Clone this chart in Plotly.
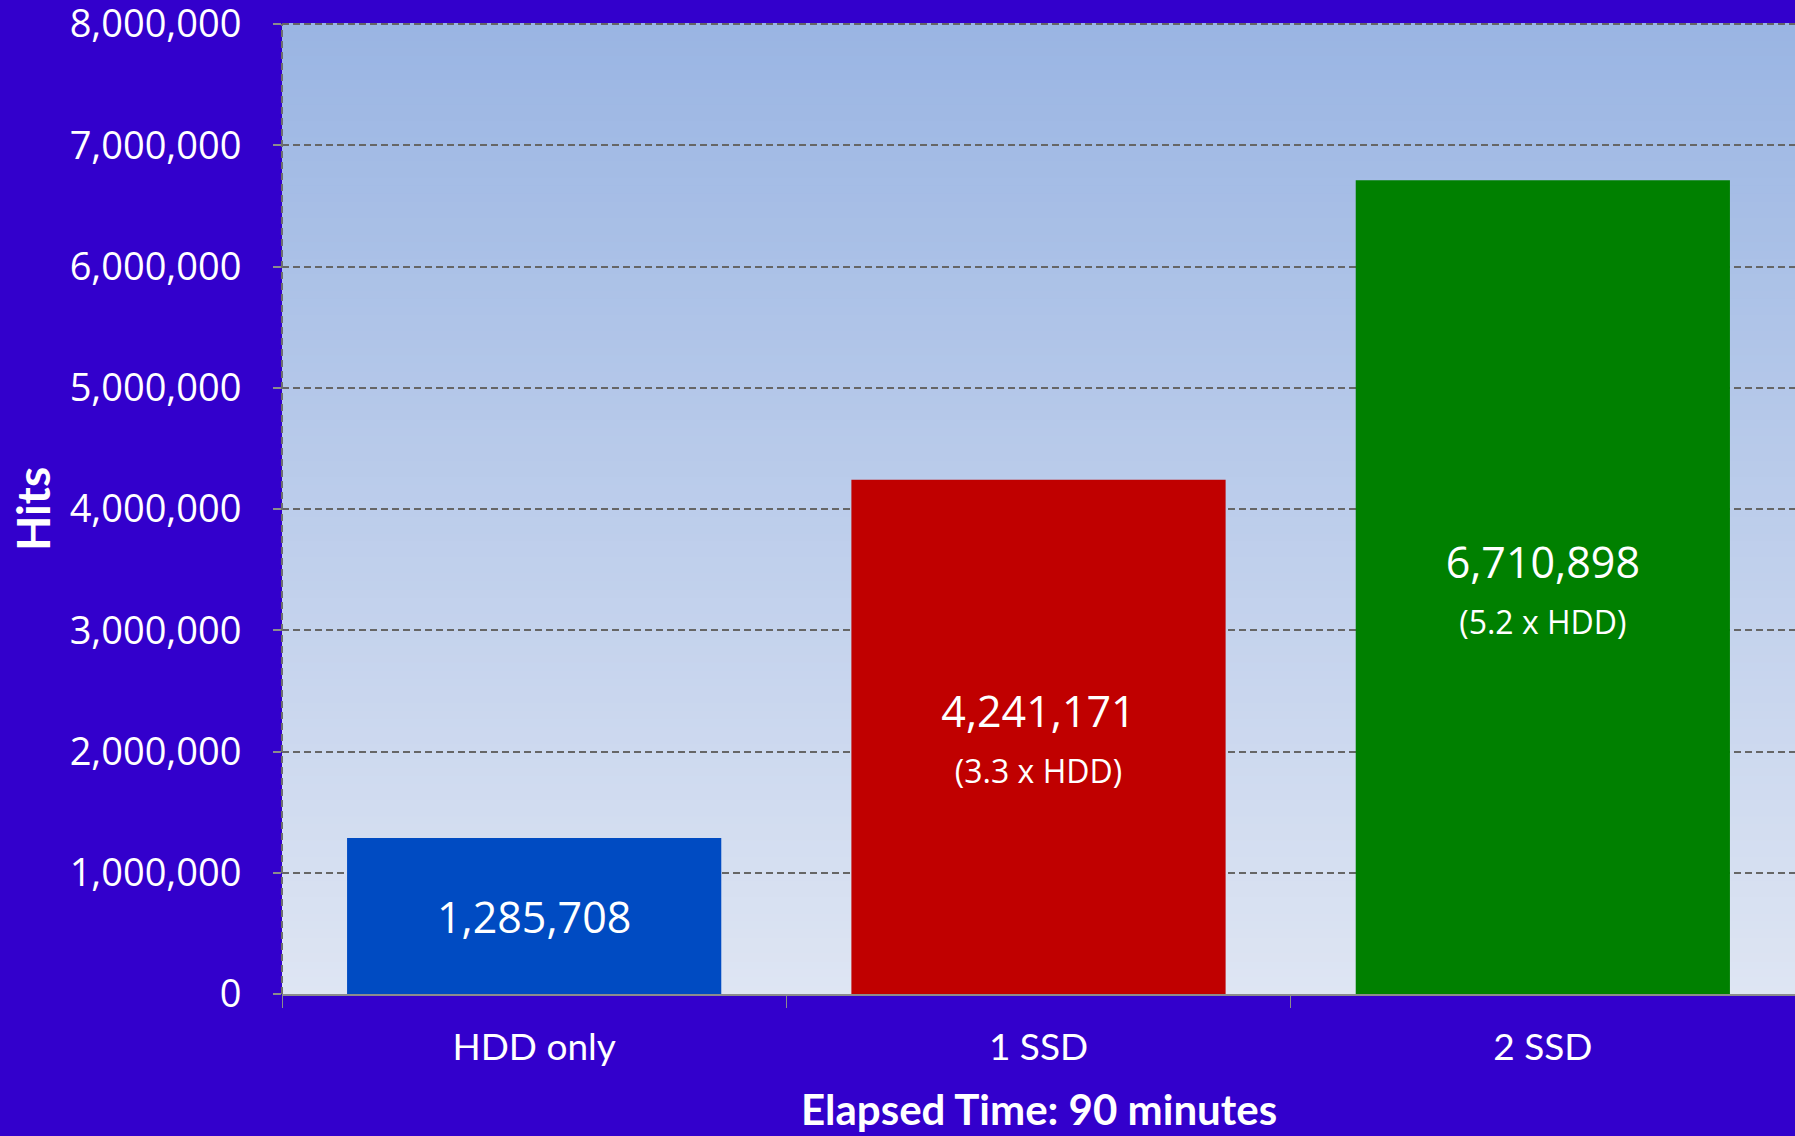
import plotly.graph_objects as go

categories = ["HDD only", "1 SSD", "2 SSD"]
hits = [1285708, 4241171, 6710898]
ratio_labels = ["", "(3.3 x HDD)", "(5.2 x HDD)"]
bar_colors = ["#004BC2", "#C00000", "#008000"]
y_ticks = [0, 1000000, 2000000, 3000000, 4000000, 5000000, 6000000, 7000000, 8000000]

texts = []
for v, r in zip(hits, ratio_labels):
    t = f"{v:,}"
    if r:
        t += f"<br><span style='font-size:32px'>{r}</span>"
    texts.append(t)

fig = go.Figure()
fig.add_trace(go.Bar(
    x=categories, y=hits, marker=dict(color=bar_colors, line=dict(width=0)),
    text=texts, textposition="inside", insidetextanchor="middle",
    textfont=dict(family="Open Sans", size=43, color="white"),
    textangle=0, hoverinfo="skip",
))

# gradient background
shapes = []
n = 120
top = (154, 181, 227)
bot = (222, 229, 243)
for i in range(n):
    f = i / (n - 1)
    c = tuple(round(bot[k] + (top[k] - bot[k]) * f) for k in range(3))
    shapes.append(dict(type="rect", xref="paper", yref="paper",
                       x0=0, x1=1, y0=i / n, y1=(i + 1) / n + 0.001,
                       fillcolor=f"rgb{c}", line=dict(width=0), layer="below"))
shapes.append(dict(type="line", xref="paper", yref="paper", x0=0, x1=0, y0=0, y1=1,
                   line=dict(color="#6E6E6E", width=2, dash="7px,4px"), layer="above"))
shapes.append(dict(type="line", xref="paper", yref="paper", x0=0, x1=1, y0=1, y1=1,
                   line=dict(color="#666666", width=2, dash="7px,4px"), layer="above"))

fig.update_layout(
    width=1795, height=1136,
    margin=dict(l=282, r=0, t=24, b=142, autoexpand=False),
    paper_bgcolor="#3300CC", plot_bgcolor="rgba(0,0,0,0)",
    showlegend=False, bargap=0.258,
    shapes=shapes,
    xaxis=dict(
        tickson="boundaries", ticks="outside", ticklen=12, tickcolor="#8C8C8C", tickwidth=1,
        showline=True, linecolor="#8C8C8C", linewidth=2, showgrid=False,
        tickfont=dict(family="Lato", size=37, color="white"),
        ticklabelstandoff=20, automargin=False,
        range=[-0.5, 2.5],
    ),
    yaxis=dict(
        range=[0, 8000000], tickvals=y_ticks, ticktext=[f"{v:,}" for v in y_ticks],
        tickfont=dict(family="Open Sans", size=38, color="white"),
        showgrid=True, gridcolor="#666666", gridwidth=2, griddash="7px,4px",
        zeroline=False, ticks="outside", ticklen=8, tickcolor="#8C8C8C", tickwidth=2,
        ticklabelstandoff=24, ticklabeloverflow="allow", automargin=False,
    ),
    annotations=[
        dict(text="<b>Elapsed Time: 90 minutes</b>", xref="paper", yref="paper",
             x=0.5, y=-0.119, xanchor="center", yanchor="middle", showarrow=False,
             font=dict(family="Lato", size=42, color="white")),
        dict(text="<b>Hits</b>", xref="paper", yref="paper", textangle=-90,
             x=0.0, xshift=-250, y=0.5, xanchor="center", yanchor="middle", showarrow=False,
             font=dict(family="Lato", size=46, color="white")),
    ],
)

fig.write_html("out.html")
